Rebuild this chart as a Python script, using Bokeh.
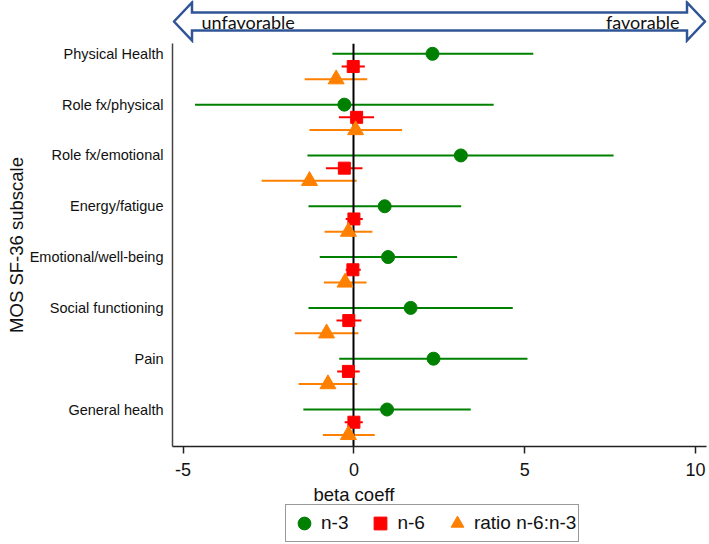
from bokeh.plotting import figure
from bokeh.models import Range1d, FixedTicker, Legend, LegendItem, InlineStyleSheet
from bokeh.layouts import column
from bokeh.core.properties import value
from bokeh.embed import file_html
from bokeh.resources import INLINE

categories = ["Physical Health", "Role fx/physical", "Role fx/emotional", "Energy/fatigue",
              "Emotional/well-being", "Social functioning", "Pain", "General health"]

n3_est = [2.30, -0.28, 3.13, 0.90, 1.00, 1.66, 2.33, 0.97]
n3_lo = [-0.63, -4.65, -1.36, -1.33, -1.00, -1.33, -0.43, -1.48]
n3_hi = [5.25, 4.09, 7.60, 3.14, 3.02, 4.65, 5.08, 3.42]

n6_est = [-0.02, 0.08, -0.28, 0.00, -0.03, -0.15, -0.16, 0.00]
n6_lo = [-0.36, -0.44, -0.82, -0.24, -0.24, -0.51, -0.49, -0.27]
n6_hi = [0.32, 0.59, 0.25, 0.26, 0.20, 0.22, 0.17, 0.26]

ratio_est = [-0.52, 0.05, -1.30, -0.16, -0.26, -0.80, -0.76, -0.16]
ratio_lo = [-1.44, -1.30, -2.70, -0.86, -0.88, -1.73, -1.62, -0.91]
ratio_hi = [0.39, 1.41, 0.08, 0.54, 0.37, 0.13, 0.10, 0.61]

x_ticks = [-5, 0, 5, 10]
x_tick_labels = ["-5", "0", "5", "10"]
series_names = ["n-3", "n-6", "ratio n-6:n-3"]
x_title = "beta coeff"
y_title = "MOS SF-36 subscale"
arrow_labels = ["unfavorable", "favorable"]

GREEN = "#008000"
RED = "#FF0000"
ORANGE = "#FF8000"
FONT = "Liberation Sans"
NAN = float("nan")

W = 709
BL, BR = 172, 3            # left / right borders (frame = 172..706)
TOP_H = 43                 # arrow strip
FRAME_H = 403              # plot frame height
AXIS_H = 38                # x-axis panel
BOT_H = 544 - TOP_H - FRAME_H - AXIS_H

xr = Range1d(-5.31, 10.32)
px_per_unit = (W - BL - BR) / (xr.end - xr.start)


def px_to_x(px):
    return xr.start + (px - BL) / px_per_unit


common = dict(output_backend="svg", toolbar_location=None,
              min_border_left=BL, min_border_right=BR)

# ---------- top arrow strip ----------
top = figure(width=W, height=TOP_H, x_range=xr, y_range=Range1d(TOP_H, 0),
             x_axis_type=None, y_axis_type=None, min_border_top=0, min_border_bottom=0, **common)
top.outline_line_color = None
top.grid.visible = False

a_mid = 21
head_len = 18 / px_per_unit
head_half, body_half = 19, 9
x0 = xr.start + 1.5 / px_per_unit
x1 = xr.end - 1.5 / px_per_unit
ax = [x0, x0 + head_len, x0 + head_len, x1 - head_len, x1 - head_len, x1,
      x1 - head_len, x1 - head_len, x0 + head_len, x0 + head_len]
ay = [a_mid, a_mid - head_half, a_mid - body_half, a_mid - body_half, a_mid - head_half, a_mid,
      a_mid + head_half, a_mid + body_half, a_mid + body_half, a_mid + head_half]
top.patch(ax, ay, fill_color="white", line_color="#2F5597", line_width=2.5, line_join="miter")
top.text(x=[px_to_x(201)], y=[a_mid + 0.5], text=[arrow_labels[0]], text_font=value("Lato"),
         text_font_size="18px", text_baseline="middle", text_align="left", text_color="#111111")
top.text(x=[px_to_x(679)], y=[a_mid + 0.5], text=[arrow_labels[1]], text_font=value("Lato"),
         text_font_size="18px", text_baseline="middle", text_align="right", text_color="#111111")

# ---------- main plot ----------
p = figure(width=W, height=FRAME_H + AXIS_H, x_range=xr, y_range=Range1d(8.728, 0.797),
           min_border_top=0, min_border_bottom=AXIS_H, **common)
p.outline_line_color = None
p.grid.visible = False

ypos = list(range(1, len(categories) + 1))
y_n3 = [y for y in ypos]
y_n6 = [y + 0.25 for y in ypos]
y_ra = [y + 0.5 for y in ypos]

p.segment(x0=n3_lo, x1=n3_hi, y0=y_n3, y1=y_n3, line_color=GREEN, line_width=2)
p.segment(x0=n6_lo, x1=n6_hi, y0=y_n6, y1=y_n6, line_color=RED, line_width=2)
p.segment(x0=ratio_lo, x1=ratio_hi, y0=y_ra, y1=y_ra, line_color=ORANGE, line_width=2)
p.vspan(x=[0], line_color="black", line_width=2)

marker_styles = [("circle", 13, GREEN), ("square", 12, RED), ("triangle", 16, ORANGE)]
for (mk, sz, col), est, yy in zip(marker_styles, [n3_est, n6_est, ratio_est], [y_n3, y_n6, y_ra]):
    p.scatter(est, yy, marker=mk, size=sz, fill_color=col, line_color=col)

xa = p.xaxis[0]
xa.ticker = FixedTicker(ticks=x_ticks)
xa.major_label_overrides = {t: s for t, s in zip(x_ticks, x_tick_labels)}
xa.minor_tick_line_color = None
xa.major_tick_out = 7
xa.major_tick_in = 0
xa.axis_line_color = "#222222"
xa.axis_line_width = 1.5
xa.major_tick_line_color = "#222222"
xa.major_tick_line_width = 1.5
xa.major_label_text_font = FONT
xa.major_label_text_font_size = "18px"
xa.major_label_text_color = "#111111"
xa.major_label_standoff = 9

ya = p.yaxis[0]
ya.ticker = FixedTicker(ticks=ypos)
ya.major_label_overrides = {y: c for y, c in zip(ypos, categories)}
ya.major_tick_line_color = None
ya.minor_tick_line_color = None
ya.major_tick_out = 0
ya.major_tick_in = 0
ya.axis_line_color = "#444444"
ya.axis_line_width = 1.5
ya.major_label_text_font = FONT
ya.major_label_text_font_size = "14.5px"
ya.major_label_text_color = "#111111"
ya.major_label_standoff = 9
ya.axis_label = y_title
ya.axis_label_text_font = FONT
ya.axis_label_text_font_size = "18.5px"
ya.axis_label_text_font_style = "normal"
ya.axis_label_text_color = "#111111"
ya.axis_label_standoff = 0

# ---------- bottom strip: x title + legend ----------
bot = figure(width=W, height=BOT_H, x_range=xr, y_range=Range1d(BOT_H, 0),
             x_axis_type=None, y_axis_type=None, min_border_top=0, min_border_bottom=0, **common)
bot.outline_line_color = None
bot.grid.visible = False
bot.text(x=[0], y=[9.5], text=[x_title], text_font=value(FONT), text_font_size="18.5px",
         text_baseline="middle", text_align="center", text_color="#111111")

items = []
for (mk, sz, col), name in zip(marker_styles, series_names):
    r = bot.scatter(x=[NAN], y=[NAN], marker=mk, size=sz, fill_color=col, line_color=col)
    items.append(LegendItem(label=name, renderers=[r]))

legend = Legend(items=items, orientation="horizontal", location=(113, 2))
legend.glyph_width = 32
legend.glyph_height = 32
legend.padding = 2
legend.spacing = 16
legend.label_standoff = 1
legend.margin = 0
legend.label_text_font = FONT
legend.label_text_font_size = "19px"
legend.label_text_color = "#111111"
legend.border_line_color = "#333333"
legend.border_line_width = 1.2
legend.background_fill_color = "white"
legend.background_fill_alpha = 1
bot.add_layout(legend)

layout = column(top, p, bot, spacing=0,
                styles={"position": "absolute", "left": "0px", "top": "0px"},
                stylesheets=[InlineStyleSheet(css=":host { position: absolute !important; left: 0px !important; top: 0px !important; }")])

open("out.html", "w").write(file_html(layout, INLINE))
